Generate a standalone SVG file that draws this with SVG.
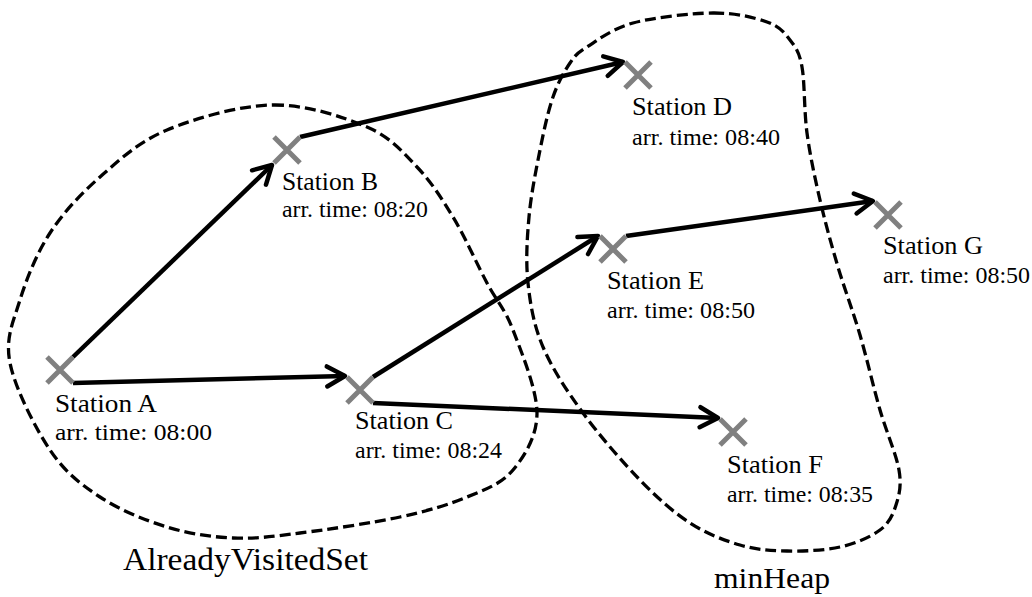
<svg xmlns="http://www.w3.org/2000/svg" width="1032" height="597" viewBox="0 0 1032 597">
<defs>
<style>
.cross{stroke:#808080;stroke-width:5;fill:none}
text{font-family:'Liberation Serif','Times New Roman',Times,serif;fill:#000}
.name{font-size:26px}
.time{font-size:23px}
.blob{fill:none;stroke:#000;stroke-width:3.3;stroke-dasharray:11 5}
.edge{fill:none;stroke:#000;stroke-width:4.5;marker-end:url(#arr)}
</style>
<marker id="arr" markerUnits="userSpaceOnUse" markerWidth="30" markerHeight="30" viewBox="-25 -15 30 30" refX="0" refY="0" orient="auto">
<path d="M-18,-10 L0,0 L-18,10" fill="none" stroke="#000" stroke-width="4.5" stroke-linecap="round" stroke-linejoin="round"/>
</marker>
</defs>
<rect width="1032" height="597" fill="#fff"/>

<g id="alreadyVisitedSet">
<path class="blob" d="M273,105 C306.3,104.5 343,116.7 367,127 C391,137.3 402.7,152 417,167 C431.3,182 441.3,197.7 453,217 C464.7,236.3 477,264.2 487,283 C497,301.8 504.7,308.3 513,330 C521.3,351.7 537,389.7 537,413 C537,436.3 524.7,456 513,470 C501.3,484 485.8,489.2 467,497 C448.2,504.8 427.8,511 400,517 C372.2,523 327.8,529.5 300,533 C272.2,536.5 255.2,539 233,538 C210.8,537 189.2,533.8 167,527 C144.8,520.2 119.5,509.8 100,497 C80.5,484.2 65,472.3 50,450 C35,427.7 15,388 10,363 C5,338 13.3,321.7 20,300 C26.7,278.3 36.7,253.5 50,233 C63.3,212.5 80.5,194.2 100,177 C119.5,159.8 138.2,142 167,130 C195.8,118 239.7,105.5 273,105 Z"/>
<text font-family="Liberation Serif, serif" x="123" y="570" font-size="32" textLength="245" lengthAdjust="spacingAndGlyphs">AlreadyVisitedSet</text>
</g>

<g id="minHeap">
<path class="blob" d="M713,13 C735.3,12.8 754.2,17.5 767,22 C779.8,26.5 784.2,32.5 790,40 C795.8,47.5 799.2,51.5 802,67 C804.8,82.5 804,110.8 807,133 C810,155.2 814.8,177.7 820,200 C825.2,222.3 831.3,244.5 838,267 C844.7,289.5 853,311.2 860,335 C867,358.8 873.5,387.5 880,410 C886.5,432.5 896.3,454.2 899,470 C901.7,485.8 899.2,495 896,505 C892.8,515 889.3,523 880,530 C870.7,537 855.5,543.5 840,547 C824.5,550.5 803.7,551.3 787,551 C770.3,550.7 756.2,549.7 740,545 C723.8,540.3 706.7,533.8 690,523 C673.3,512.2 657.8,498.3 640,480 C622.2,461.7 599.2,435.2 583,413 C566.8,390.8 552.2,368.7 543,347 C533.8,325.3 530.3,304.7 528,283 C525.7,261.3 527,239.2 529,217 C531,194.8 536,170 540,150 C544,130 548,111.5 553,97 C558,82.5 564.3,71.3 570,63 C575.7,54.7 576.5,53.7 587,47 C597.5,40.3 612,28.7 633,23 C654,17.3 690.7,13.2 713,13 Z"/>
<text x="714" y="588" font-size="30" textLength="116" lengthAdjust="spacingAndGlyphs">minHeap</text>
</g>

<g id="connectors">
<path class="edge" d="M73,357 L272,165"/>
<path class="edge" d="M73,383 L345,376"/>
<path class="edge" d="M300,137 L623,62"/>
<path class="edge" d="M373,377 L598,236"/>
<path class="edge" d="M373,403 L718,418"/>
<path class="edge" d="M626,236 L873,201"/>
</g>

<g id="stationA">
<path class="cross" d="M47,357 L73,383 M47,383 L73,357"/>
<text class="name" x="55" y="412" textLength="102" lengthAdjust="spacingAndGlyphs">Station A</text>
<text class="time" x="55" y="440" textLength="157" lengthAdjust="spacingAndGlyphs">arr. time: 08:00</text>
</g>
<g id="stationB">
<path class="cross" d="M274,137 L300,163 M274,163 L300,137"/>
<text class="name" x="282" y="190" textLength="96" lengthAdjust="spacingAndGlyphs">Station B</text>
<text class="time" x="282" y="217" textLength="146" lengthAdjust="spacingAndGlyphs">arr. time: 08:20</text>
</g>
<g id="stationC">
<path class="cross" d="M347,377 L373,403 M347,403 L373,377"/>
<text class="name" x="355" y="429" textLength="98" lengthAdjust="spacingAndGlyphs">Station C</text>
<text class="time" x="355" y="458" textLength="147" lengthAdjust="spacingAndGlyphs">arr. time: 08:24</text>
</g>
<g id="stationD">
<path class="cross" d="M625,62 L651,88 M625,88 L651,62"/>
<text class="name" x="632" y="115" textLength="100" lengthAdjust="spacingAndGlyphs">Station D</text>
<text class="time" x="632" y="145" textLength="148" lengthAdjust="spacingAndGlyphs">arr. time: 08:40</text>
</g>
<g id="stationE">
<path class="cross" d="M600,236 L626,262 M600,262 L626,236"/>
<text class="name" x="607" y="289" textLength="97" lengthAdjust="spacingAndGlyphs">Station E</text>
<text class="time" x="607" y="318" textLength="148" lengthAdjust="spacingAndGlyphs">arr. time: 08:50</text>
</g>
<g id="stationF">
<path class="cross" d="M720,419 L746,445 M720,445 L746,419"/>
<text class="name" x="727" y="473" textLength="96" lengthAdjust="spacingAndGlyphs">Station F</text>
<text class="time" x="727" y="502" textLength="146" lengthAdjust="spacingAndGlyphs">arr. time: 08:35</text>
</g>
<g id="stationG">
<path class="cross" d="M875,202 L901,228 M875,228 L901,202"/>
<text class="name" x="883" y="254" textLength="100" lengthAdjust="spacingAndGlyphs">Station G</text>
<text class="time" x="883" y="283" textLength="147" lengthAdjust="spacingAndGlyphs">arr. time: 08:50</text>
</g>
</svg>
